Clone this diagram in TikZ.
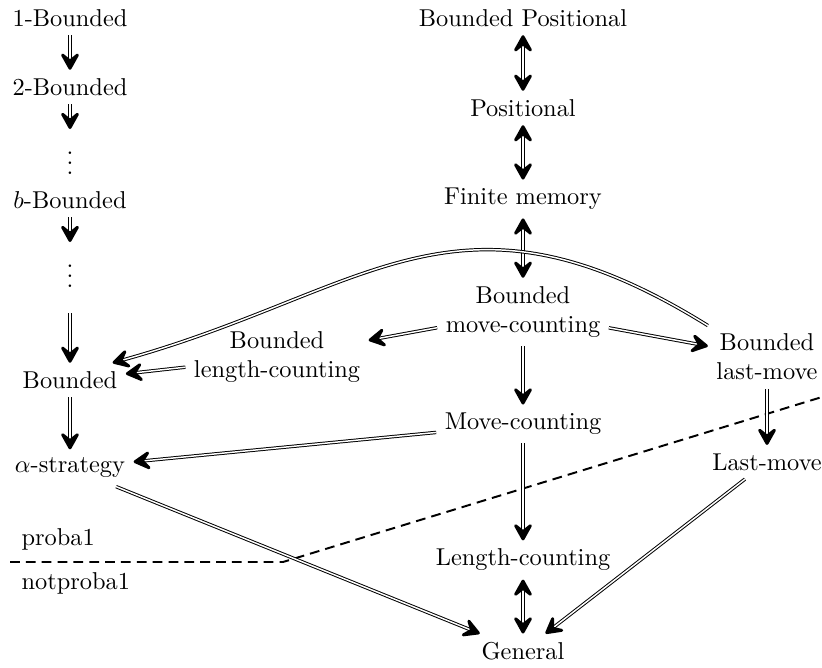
\documentclass[tikz,border=0pt]{standalone}
\usetikzlibrary{arrows.meta}
\begin{document}
\begin{tikzpicture}[x=0.41pt,y=-0.41pt,
  every node/.style={align=center},
  >={Stealth[length=9pt,width=10pt,inset=4pt,round,line width=1.2pt]},
  imp/.style={double,->},
  eqv/.style={double,<->},
  sep/.style={line width=0.8pt,dash pattern=on 4pt off 2.5pt}]
\useasboundingbox (0,0) rectangle (822,667);
% left column
\node (b1) at (70,18) {1-Bounded};
\node (b2) at (70,87) {2-Bounded};
\node (d1) at (70,156) {$\vdots$};
\node (bb) at (70,200) {$b$-Bounded};
\node (d2) at (70,269) {$\vdots$};
\node (bnd) at (70,380) {Bounded};
\node (alpha) at (70,468) {$\alpha$-strategy};
% middle column
\node (bp) at (523,18) {Bounded Positional};
\node (pos) at (523,108) {Positional};
\node (fm) at (523,199) {Finite memory};
\node (bmc) at (523,312) {Bounded\\move-counting};
\node (blc) at (277,357) {Bounded\\length-counting};
\node (blm) at (767,357) {Bounded\\last-move};
\node (mc) at (523,424) {Move-counting};
\node (lm) at (767,462) {Last-move};
\node (lc) at (523,560) {Length-counting};
\node (gen) at (523,651) {General};
% labels
\node[anchor=west] (p1) at (13,539) {proba1};
\node[anchor=west] (np1) at (13,583) {notproba1};
% separator
\coordinate (s0) at (10,562);
\coordinate (s1) at (283,562);
\coordinate (s2) at (822,397);
\draw[sep] (s0) -- (s1) -- (s2);
% arrows
\draw[imp] (b1) -- (b2);
\draw[imp] (b2) -- (d1);
\draw[imp] (bb) -- (d2);
\draw[imp,shorten <=7pt] (d2) -- (bnd);
\draw[imp] (bnd) -- (alpha);
\draw[eqv] (bp) -- (pos);
\draw[eqv] (pos) -- (fm);
\draw[eqv] (fm) -- (bmc);
\draw[imp] (bmc) -- (blc);
\draw[imp] (bmc) -- (blm);
\draw[imp] (blc) -- (bnd);
\draw[imp] (blm.152) .. controls (456.5,169.3) and (369.6,291.8) .. (bnd.22);
\draw[imp] (bmc) -- (mc);
\draw[imp] (mc) -- (alpha);
\draw[imp] (blm) -- (lm);
\draw[imp] (mc) -- (lc);
\draw[imp] (alpha) -- (gen);
\draw[imp] (lm) -- (gen);
\draw[eqv] (lc) -- (gen);
\end{tikzpicture}
\end{document}
